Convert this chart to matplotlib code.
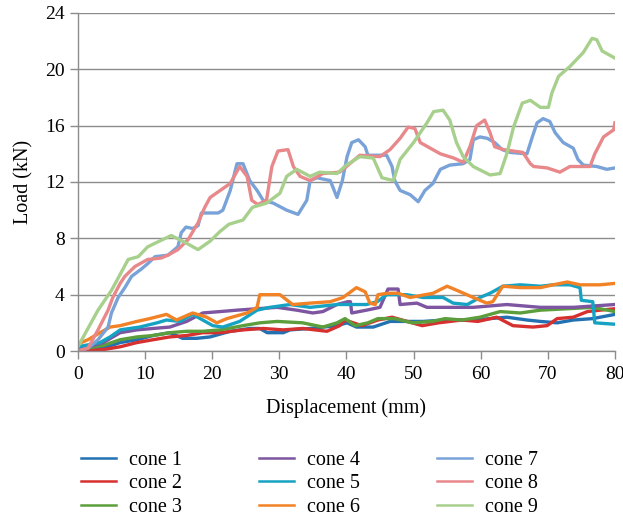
import matplotlib
matplotlib.use('Agg')
import matplotlib.pyplot as plt

plt.rcParams['font.family'] = ['Liberation Serif', 'DejaVu Serif']

labels = ['cone 1', 'cone 2', 'cone 3', 'cone 4', 'cone 5',
          'cone 6', 'cone 7', 'cone 8', 'cone 9']
colors = ['#2271b3', '#d6302f', '#5c9e3c', '#7d55a0', '#16a3c3',
          '#f28226', '#79a3d8', '#e8888a', '#a8d08d']

x1 = [0, 3.8, 6.3, 8.8, 11.2, 13.7, 15.6, 17.7, 19.7, 22.7, 25.6, 27.1, 28.2, 30.6, 31.6, 34.6,
      38.6, 40.1, 41.5, 44, 46.5, 51.4, 54.7, 58.9, 61.4, 63.9, 66.9, 68.9, 71.4, 73.8, 76.7, 80]
y1 = [0, 0.2, 0.6, 0.8, 1.1, 1.3, 0.9, 0.9, 1.0, 1.4, 1.6, 1.6, 1.3, 1.3, 1.5, 1.6,
      1.8, 2.0, 1.7, 1.7, 2.1, 2.1, 2.2, 2.2, 2.3, 2.4, 2.2, 2.1, 2.0, 2.2, 2.3, 2.6]

x2 = [0, 3.8, 6.3, 8.8, 11.2, 13.7, 16.2, 18.6, 21.2, 24.6, 27.6, 30.6, 33.5, 37.1, 39, 39.8, 42.3,
      44.7, 46.8, 48.3, 51.3, 53.7, 57.2, 59.6, 62.4, 64.8, 67.8, 69.9, 71.4, 73.8, 75.9, 77.8, 80]
y2 = [0, 0.1, 0.3, 0.6, 0.8, 1.0, 1.1, 1.3, 1.3, 1.5, 1.6, 1.5, 1.6, 1.4, 1.8, 2.2, 1.8,
      2.2, 2.4, 2.2, 1.8, 2.0, 2.2, 2.1, 2.4, 1.8, 1.7, 1.8, 2.3, 2.4, 2.8, 2.9, 3.0]

x3 = [0, 3.8, 6.3, 8.8, 11.2, 13.7, 16.2, 18.6, 21.2, 24.6, 27.1, 29.7, 33.5, 36.5, 38.6, 39.8,
      41.3, 43.2, 44.7, 47.2, 49.8, 52.8, 54.7, 57.2, 59.9, 62.9, 65.9, 68.9, 72.9, 76.7, 80]
y3 = [0.1, 0.4, 0.8, 1.0, 1.1, 1.3, 1.4, 1.4, 1.5, 1.8, 2.0, 2.1, 2.0, 1.7, 2.0, 2.3,
      1.8, 2.0, 2.3, 2.3, 2.0, 2.1, 2.3, 2.2, 2.4, 2.8, 2.7, 2.9, 3.0, 3.1, 2.8]

x4 = [0, 3.8, 6.3, 8.8, 11.2, 13.7, 16.2, 18.6, 21.2, 23.7, 26.7, 29.7, 32.6, 35, 36.5, 38.6,
      40.2, 40.6, 40.8, 43, 45, 46.2, 47.7, 48, 50.5, 52, 58.9, 63.9, 68.9, 73.8, 80]
y4 = [0.1, 0.6, 1.3, 1.5, 1.6, 1.7, 2.1, 2.7, 2.8, 2.9, 3.0, 3.1, 2.9, 2.7, 2.8, 3.3,
      3.5, 3.5, 2.7, 2.9, 3.1, 4.4, 4.4, 3.3, 3.4, 3.1, 3.1, 3.3, 3.1, 3.1, 3.3]

x5 = [0, 3.3, 4.8, 6.3, 9.2, 11.8, 13.2, 15.2, 17.1, 18.6, 20.1, 21.6, 24.1, 26.7, 28.6, 31.6,
      34.6, 38.6, 43, 44.6, 46, 49, 51.4, 54.4, 55.9, 58, 59.9, 61.4, 63.3, 65.9, 68.9, 70.8,
      73.3, 74.8, 75, 76.7, 77, 80]
y5 = [0.3, 0.6, 1.0, 1.5, 1.7, 2.0, 2.2, 2.1, 2.6, 2.2, 1.8, 1.7, 2.1, 2.9, 3.1, 3.3,
      3.1, 3.3, 3.3, 3.5, 4.0, 4.0, 3.8, 3.8, 3.4, 3.3, 3.8, 4.1, 4.6, 4.7, 4.6, 4.7,
      4.7, 4.5, 3.6, 3.5, 2.0, 1.9]

x6 = [0, 1.5, 3.3, 4.8, 6.3, 8.8, 10.7, 13.2, 14.7, 17.1, 19.2, 20.7, 22.2, 25.2, 26.7, 27.1,
      30.1, 32, 34.6, 37.6, 39.5, 41.5, 42.8, 43.5, 44.3, 44.7, 46.2, 47.7, 49.5, 52.9, 55,
      56.5, 58.9, 60.9, 61.8, 63.3, 65.9, 68.9, 70.8, 72.9, 74.8, 77.8, 80]
y6 = [0.5, 0.8, 1.3, 1.7, 1.8, 2.1, 2.3, 2.6, 2.2, 2.7, 2.4, 2.0, 2.3, 2.7, 3.1, 4.0,
      4.0, 3.3, 3.4, 3.5, 3.8, 4.5, 4.2, 3.4, 3.3, 4.0, 4.1, 4.1, 3.8, 4.1, 4.6,
      4.3, 3.8, 3.4, 3.5, 4.6, 4.5, 4.5, 4.7, 4.9, 4.7, 4.7, 4.8]

x7 = [0, 1.5, 3, 4.5, 5, 6, 7, 8, 9.4, 10.4, 11.5, 13.4, 14.9, 15.4, 16.1, 17.1, 17.9, 18.4,
      20.9, 21.6, 22.7, 23.7, 24.6, 25.6, 26.7, 27.6, 29.1, 31.1, 32.8, 34.1, 34.6, 35.6,
      37.6, 38.6, 39.4, 40.1, 40.8, 41.8, 42.8, 43.2, 46, 46.8, 47.2, 48, 49.5, 50.7, 51.7,
      52.9, 54, 55.4, 57.4, 58.4, 58.9, 59.9, 61, 62.1, 63.2, 64.4, 66.9, 67.7, 68.4, 69.3,
      70.3, 71.1, 72.3, 73.8, 74.5, 75.3, 77.3, 78.8, 80]
y7 = [0, 0.2, 0.8, 1.7, 2.7, 3.8, 4.5, 5.3, 5.8, 6.2, 6.7, 6.8, 7.4, 8.4, 8.8, 8.7, 8.9, 9.8,
      9.8, 10.0, 11.4, 13.3, 13.3, 12.1, 11.4, 10.7, 10.5, 10.0, 9.7, 10.7, 12.1, 12.3,
      12.1, 10.9, 12.1, 13.8, 14.8, 15.0, 14.5, 13.9, 13.9, 13.1, 12.1, 11.4, 11.1, 10.6, 11.4,
      11.9, 12.9, 13.2, 13.3, 13.6, 15.0, 15.2, 15.1, 14.8, 14.3, 14.1, 14.0, 15.2, 16.2, 16.5,
      16.3, 15.5, 14.8, 14.4, 13.6, 13.2, 13.1, 12.9, 13.0]

x8 = [0, 1.5, 3, 4.5, 5.2, 6.3, 7, 8.5, 10.4, 12.4, 13.4, 14.9, 16.4, 17.9, 18.9, 19.7, 21.2,
      22.7, 24.1, 25.2, 25.9, 26.8, 28.1, 28.9, 29.8, 31.3, 32.1, 33.1, 34.6, 36.5, 39, 40.5,
      42, 45, 46.5, 48, 49.2, 50.2, 51, 52.5, 54, 56, 57.4, 58.4, 59.4, 60.6, 61.4, 62.1,
      63.4, 66.3, 67.4, 67.9, 69.9, 71.8, 73.3, 76.3, 77, 78.3, 79.8, 80]
y8 = [0, 0.2, 1.5, 2.9, 3.8, 4.8, 5.3, 6.0, 6.5, 6.6, 6.8, 7.2, 7.9, 9.1, 10.2, 10.9, 11.4,
      11.9, 13.1, 12.4, 10.7, 10.4, 10.7, 13.1, 14.2, 14.3, 13.1, 12.4, 12.1, 12.6, 12.7, 13.3,
      13.9, 13.8, 14.3, 15.1, 15.9, 15.8, 14.8, 14.4, 14.0, 13.7, 13.4, 14.5, 16.0, 16.4, 15.5, 14.5,
      14.3, 14.1, 13.3, 13.1, 13.0, 12.7, 13.1, 13.1, 14.0, 15.2, 15.7, 16.2]

x9 = [0, 3, 5, 7.5, 9, 10.4, 13.9, 16, 17.9, 19.7, 21.2, 22.5, 24.6, 26, 28.1, 30.1, 31.1,
      32.6, 34.6, 36, 38.6, 40, 42, 44, 45.3, 47, 48, 50, 52, 53, 54.4, 55.4, 56.4, 57.4,
      58.9, 61.4, 62.9, 63.9, 64.9, 66.2, 67.4, 68.9, 70.1, 70.6, 71.6, 73.3, 75.3, 76.6,
      77.3, 78.1, 80]
y9 = [0.3, 2.9, 4.3, 6.5, 6.7, 7.4, 8.2, 7.7, 7.2, 7.8, 8.5, 9.0, 9.3, 10.2, 10.5, 11.2, 12.4,
      12.9, 12.4, 12.7, 12.6, 13.2, 13.8, 13.7, 12.3, 12.1, 13.6, 14.8, 16.2, 17.0, 17.1, 16.4, 14.8, 13.8,
      13.1, 12.5, 12.6, 14.0, 15.9, 17.6, 17.8, 17.3, 17.3, 18.3, 19.5, 20.2, 21.2, 22.2,
      22.1, 21.3, 20.8]

xs = [x1, x2, x3, x4, x5, x6, x7, x8, x9]
ys = [y1, y2, y3, y4, y5, y6, y7, y8, y9]

fig = plt.figure(figsize=(6.23, 5.2), dpi=100)
ax = fig.add_axes([0.125, 0.325, 0.862, 0.65])

for x, y, c, lab in zip(xs, ys, colors, labels):
    ax.plot(x, y, color=c, lw=2.4, label=lab, solid_joinstyle='round')

ax.set_xlim(0, 80)
ax.set_ylim(0, 24)
ax.set_xticks(range(0, 81, 10))
ax.set_yticks(range(0, 25, 4))
ax.grid(axis='y', color='#8c8c8c', lw=1.0)
ax.set_axisbelow(True)
for s in ['top', 'right']:
    ax.spines[s].set_visible(False)
for s in ['left', 'bottom']:
    ax.spines[s].set_color('#8c8c8c')
    ax.spines[s].set_linewidth(1.0)
ax.tick_params(axis='both', colors='#8c8c8c', labelcolor='black', labelsize=14, length=6, width=1.0)
ax.tick_params(axis='x', pad=5)
ax.set_xlabel('Displacement (mm)', fontsize=14.5, labelpad=11)
ax.set_ylabel('Load (kN)', fontsize=14.5, labelpad=8)

leg = fig.legend(loc='center', bbox_to_anchor=(0.497, 0.07), ncol=3, frameon=False,
                 fontsize=14.5, handlelength=1.75, handletextpad=0.65,
                 columnspacing=3.8, labelspacing=0.22)
for ln in leg.get_lines():
    ln.set_linewidth(1.8)

fig.savefig('out.png', dpi=100)
